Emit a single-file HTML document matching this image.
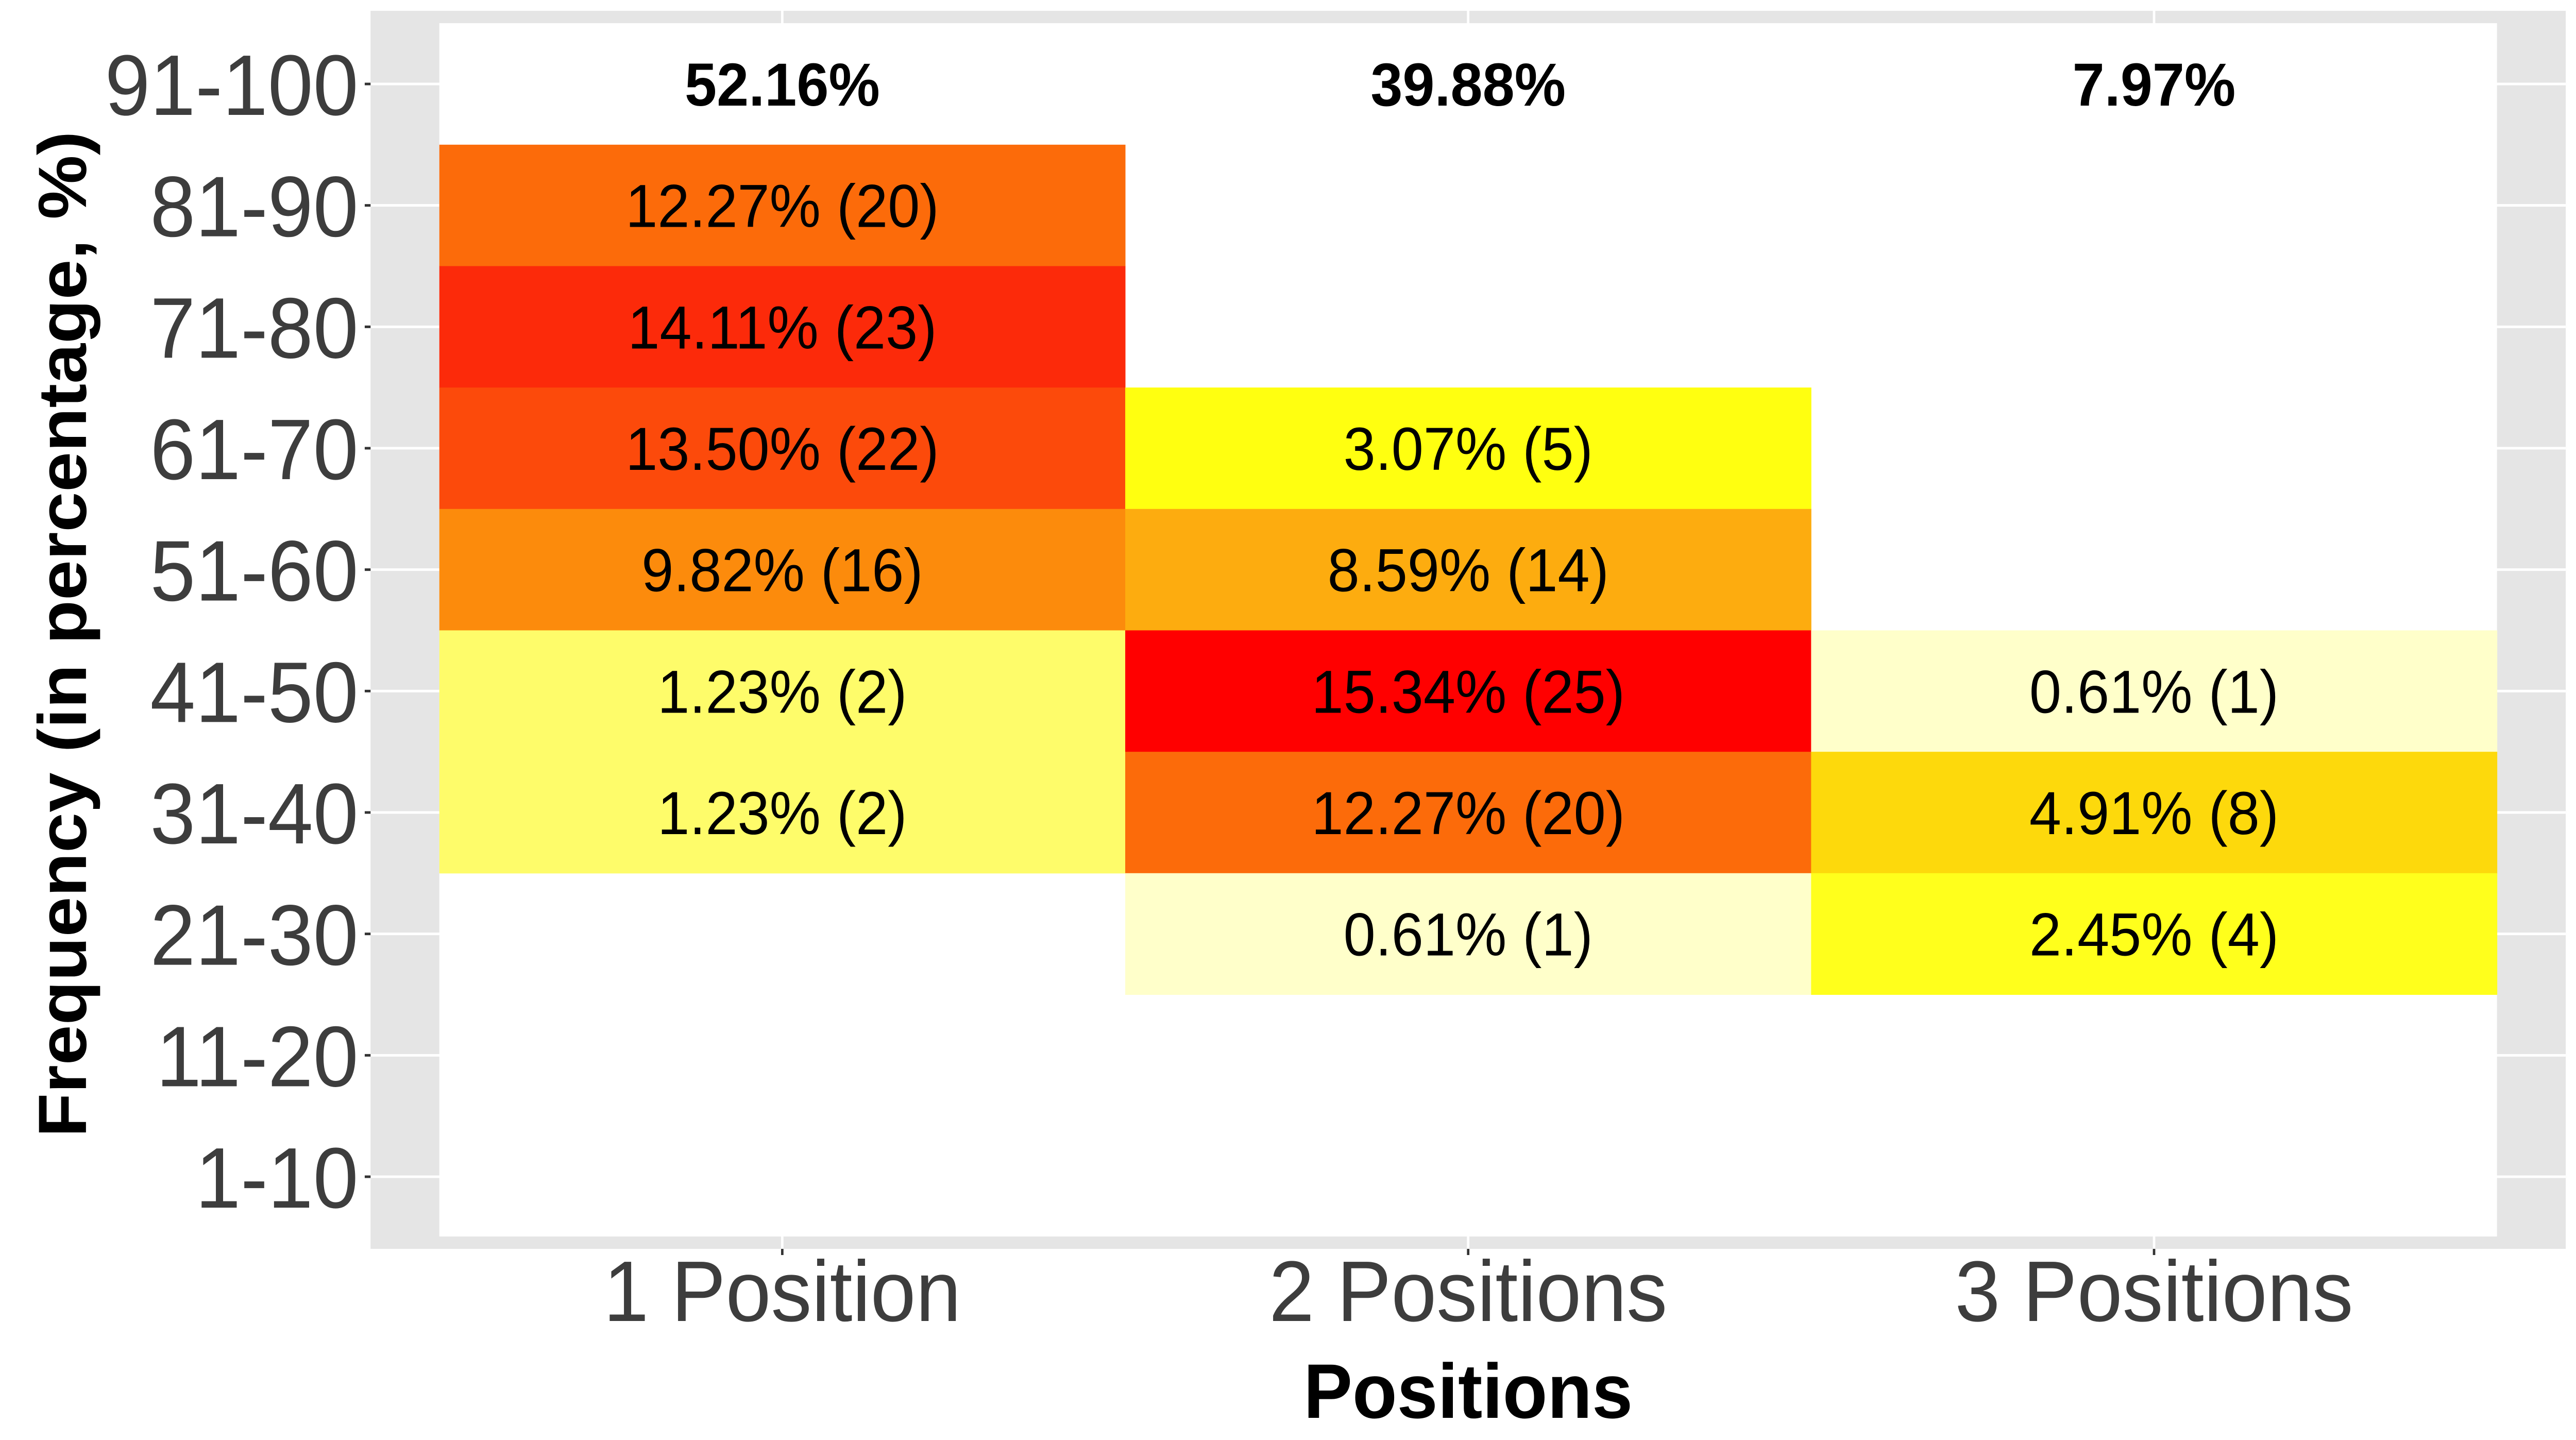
<!DOCTYPE html>
<html><head><meta charset="utf-8"><style>
html,body{margin:0;padding:0;background:#fff;overflow:hidden;width:100%;height:100%;}
svg{display:block;font-family:"Liberation Sans",Arial,sans-serif;width:100vw;height:100vh;}
</style></head><body>
<svg id="chart" viewBox="0 0 5283 2795" preserveAspectRatio="none" xmlns="http://www.w3.org/2000/svg">
<rect x="760" y="21" width="4502" height="2403" fill="#e5e5e5"/>
<g id="grid"></g>
<rect x="901" y="45" width="4220" height="2355" fill="#ffffff"/>
<g id="tiles"></g>
<g id="axes"></g>
<text transform="translate(128,1231) rotate(-90)" text-anchor="middle" dominant-baseline="central" font-size="140" font-weight="bold" fill="#000">Frequency (in percentage, %)</text>
<text x="3011" y="2752" text-anchor="middle" font-size="150" font-weight="bold" fill="#000">Positions</text>
</svg>
<script>
const categories = ["1 Position","2 Positions","3 Positions"];
const rowLabels = ["1-10","11-20","21-30","31-40","41-50","51-60","61-70","71-80","81-90","91-100"];
const totals = ["52.16%","39.88%","7.97%"];
const cellCol = [0,0,0,0,0,0, 1,1,1,1,1, 2,2,2];
const cellRow = [8,7,6,5,4,3, 6,5,4,3,2, 4,3,2];
const cellPct = [12.27,14.11,13.50,9.82,1.23,1.23, 3.07,8.59,15.34,12.27,0.61, 0.61,4.91,2.45];
const cellCount = [20,23,22,16,2,2, 5,14,25,20,1, 1,8,4];

const NS="http://www.w3.org/2000/svg";
const X0=901, COLW=4220/3, Y91=163, ROWH=(2284-163)/9;
function xCenter(i){return X0+COLW*(i+0.5);}
function yCenter(r){return Y91+(9-r)*ROWH;}
const stops=[[0.6,[255,255,204]],[1.23,[254,252,106]],[2.45,[255,255,28]],[3.07,[255,255,16]],[4.91,[253,217,12]],[8.59,[253,172,15]],[9.82,[252,139,12]],[12.27,[252,107,10]],[13.5,[252,74,11]],[14.11,[252,42,10]],[15.34,[255,0,0]]];
function color(v){
  if(v<=stops[0][0]) return "rgb("+stops[0][1]+")";
  for(let i=1;i<stops.length;i++){
    if(v<=stops[i][0]){const a=stops[i-1],b=stops[i],t=(v-a[0])/(b[0]-a[0]);
      return "rgb("+a[1].map((c,k)=>Math.round(c+(b[1][k]-c)*t)).join(",")+")";}
  }
  return "rgb("+stops[stops.length-1][1]+")";
}
function mk(tag,attrs,parent,txt){const e=document.createElementNS(NS,tag);for(const k in attrs)e.setAttribute(k,attrs[k]);if(txt!==undefined)e.textContent=txt;parent.appendChild(e);return e;}
const grid=document.getElementById('grid'),tiles=document.getElementById('tiles'),axes=document.getElementById('axes');
rowLabels.forEach((lab,r)=>{
  const y=yCenter(r);
  let g=mk('line',{x1:760,x2:5262,y1:y,y2:y,stroke:'#fff','stroke-width':5},grid);
  
  
  let t=mk('line',{x1:748,x2:760,y1:y,y2:y,stroke:'#333','stroke-width':5},axes);
  
  
  let l=mk('text',{x:735,y:y+60,'text-anchor':'end','font-size':167,fill:'#3d3d3d'},axes,lab);
  
  
});
categories.forEach((c,i)=>{
  const x=xCenter(i);
  let g=mk('line',{x1:x,x2:x,y1:21,y2:2424,stroke:'#fff','stroke-width':5},grid);
  
  
  let t=mk('line',{x1:x,x2:x,y1:2424,y2:2436,stroke:'#333','stroke-width':5},axes);
  
  
  let l=mk('text',{x:x,y:2564,'text-anchor':'middle','font-size':167,fill:'#3d3d3d'},axes,c);
  
  
  let tt=mk('text',{x:x,y:yCenter(9)+42,'text-anchor':'middle','font-size':118,'font-weight':'bold',fill:'#000'},tiles,totals[i]);
  
  
});
cellPct.forEach((v,k)=>{
  const cx=xCenter(cellCol[k]), cy=yCenter(cellRow[k]);
  let r=mk('rect',{x:cx-COLW/2,y:cy-ROWH/2,width:COLW+0.5,height:ROWH+0.5,fill:color(v)},tiles);
  
  
});
cellPct.forEach((v,k)=>{
  const cx=xCenter(cellCol[k]), cy=yCenter(cellRow[k]);
  let t=mk('text',{x:cx,y:cy+42,'text-anchor':'middle','font-size':118,fill:'#000'},tiles,v.toFixed(2)+"% ("+cellCount[k]+")");
  
  
});
</script>
</body></html>
